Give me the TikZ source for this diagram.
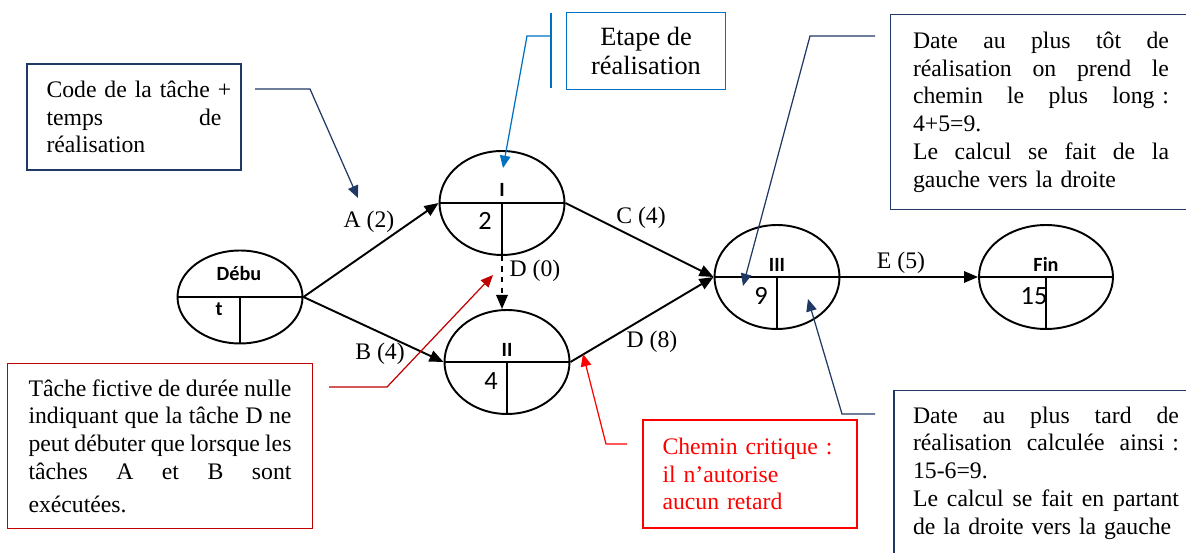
\documentclass[tikz,border=0pt]{standalone}
\usepackage{fontspec}
\setmainfont{Liberation Serif}
\newfontfamily\carlito{Carlito}
\usetikzlibrary{shapes.geometric,arrows.meta,positioning}
\definecolor{navyline}{HTML}{203864}
\definecolor{stepblue}{HTML}{0070C0}
\definecolor{darkred}{HTML}{C00000}
\definecolor{critred}{HTML}{FF0000}

\begin{document}
\begin{tikzpicture}[x=0.02cm, y=-0.02cm,
    evt/.style={draw, ellipse, line width=1.1pt, minimum width=2.5cm, minimum height=2.08cm, inner sep=0pt},
    evtname/.style={anchor=base, font=\carlito\fontsize{11.5}{13}\selectfont\bfseries},
    evtdate/.style={anchor=base, font=\carlito\fontsize{15}{18}\selectfont},
    split/.style={line width=1.1pt},
    task/.style={-{Triangle[length=8pt,width=6.5pt]}, line width=1.1pt},
    tasklbl/.style={font=\fontsize{13.5}{15.8}\selectfont},
    note/.style={draw, line width=0.9pt, inner sep=0pt, font=\fontsize{13.5}{15.8}\selectfont},
    pointer/.style={-{Triangle[length=7pt,width=6pt]}, line width=0.7pt}
]
\useasboundingbox (0,0) rectangle (1186,553);

% --- events ---
\node[evt, minimum height=1.86cm] (deb) at (240,297) {};
\node[evt] (n1) at (502,203) {};
\node[evt] (n2) at (507,362) {};
\node[evt] (n3) at (777,277) {};
\node[evt, minimum width=2.68cm] (fin) at (1046,277) {};

% --- event cells ---
\draw[split] (deb.west) -- (deb.east);
\draw[split] (deb.center) -- (deb.south);
\draw[split] (n1.west) -- (n1.east);
\draw[split] (n1.center) -- (n1.south);
\draw[split] (n2.west) -- (n2.east);
\draw[split] (n2.center) -- (n2.south);
\draw[split] (n3.west) -- (n3.east);
\draw[split] (n3.center) -- (n3.south);
\draw[split] (fin.west) -- (fin.east);
\draw[split] (fin.center) -- (fin.south);

% --- event names and dates ---
\node[evtname] (debname) at (239,281) {Débu};
\node[evtname] (debname2) at (219,316) {t};
\node[evtname] (n1name) at (502,197) {I};
\node[evtdate] (n1date) at (485,230) {2};
\node[evtname] (n2name) at (507,357) {II};
\node[evtdate] (n2date) at (491,390) {4};
\node[evtname] (n3name) at (777,272) {III};
\node[evtdate] (n3date) at (761,305) {9};
\node[evtname] (finname) at (1046,272) {Fin};
\node[evtdate] (findate) at (1034,305) {15};

% --- tasks ---
\draw[task] (deb.east) -- (n1.west);
\draw[task] (deb.east) -- (n2.west);
\draw[task] (n1.east) -- (n3.west);
\draw[task] (n2.east) -- (n3.west);
\draw[task, dashed] (n1.south) -- (n1.south |- n2.north);
\draw[task] (n3.east) -- (fin.west);

\node[tasklbl] (lblA) at (369,222) {A (2)};
\node[tasklbl] (lblB) at (380,354) {B (4)};
\node[tasklbl] (lblC) at (641,218) {C (4)};
\node[tasklbl] (lblD0) at (535,271) {D (0)};
\node[tasklbl] (lblD8) at (652,342) {D (8)};
\node[tasklbl] (lblE) at (901,263) {E (5)};

% --- notes ---
\node[note, draw=navyline, minimum width=4.28cm, minimum height=2.12cm, text width=3.5cm, align=left] (codebox) at (134,117)
  {\mbox{Code de la tâche +}\\ temps\hfill de\\ réalisation};
\node[note, draw=stepblue, minimum width=3.18cm, minimum height=1.54cm, align=center,
      font=\fontsize{15}{16.5}\selectfont] (stepbox) at (646,51)
  {Etape de\\ réalisation};
\node[note, draw=navyline, minimum width=6.02cm, minimum height=3.9cm, text width=5.12cm, align=left] (earlybox) at (1041,112)
  {Date\hfill au\hfill plus\hfill tôt\hfill de\\
   réalisation\hfill on\hfill prend\hfill le\\
   chemin\hfill le\hfill plus\hfill long~:\\
   4+5=9.\\
   Le\hfill calcul\hfill se\hfill fait\hfill de\hfill la\\
   gauche vers la droite};
\node[note, draw=navyline, minimum width=6.08cm, minimum height=3.3cm, text width=5.32cm, align=left] (latebox) at (1046,473)
  {Date\hfill au\hfill plus\hfill tard\hfill de\\
   réalisation\hfill calculée\hfill ainsi~:\\
   15-6=9.\\
   Le\hfill calcul\hfill se\hfill fait\hfill en\hfill partant\\
   de la droite vers la gauche};
\node[note, draw=darkred, minimum width=6.1cm, minimum height=3.3cm, text width=5.26cm, align=left] (fictbox) at (160,446)
  {Tâche\hfill fictive\hfill de\hfill durée\hfill nulle\\
   indiquant\hfill que\hfill la\hfill tâche\hfill D\hfill ne\\
   peut\hfill débuter\hfill que\hfill lorsque\hfill les\\
   tâches\hfill A\hfill et\hfill B\hfill sont\\[3pt]
   exécutées.};
\node[note, draw=critred, text=critred, minimum width=4.28cm, minimum height=2.16cm, text width=3.5cm, align=left] (critbox) at (750,474)
  {Chemin critique :\\ il n’autorise\\ aucun retard};

% --- pointers ---
\coordinate (codeA) at (255,89);
\coordinate (codeB) at (310,89);
\coordinate (codeT) at (358,198);
\draw[pointer, navyline] (codeA) -- (codeB) -- (codeT);

\coordinate (stepbarA) at (551,13);
\coordinate (stepbarB) at (551,88);
\draw[stepblue, line width=0.8pt] (stepbarA) -- (stepbarB);
\coordinate (stepA) at (551,36);
\coordinate (stepB) at (527,36);
\coordinate (stepT) at (503,168);
\draw[pointer, stepblue] (stepA) -- (stepB) -- (stepT);

\coordinate (earlyA) at (875,36);
\coordinate (earlyB) at (810,36);
\coordinate (earlyT) at (743,286);
\draw[pointer, navyline] (earlyA) -- (earlyB) -- (earlyT);

\coordinate (lateA) at (875,414);
\coordinate (lateB) at (842,414);
\coordinate (lateT) at (808,299);
\draw[pointer, navyline] (lateA) -- (lateB) -- (lateT);

\coordinate (fictA) at (329,387);
\coordinate (fictB) at (387,387);
\coordinate (fictT) at (493,275);
\draw[pointer, darkred] (fictA) -- (fictB) -- (fictT);

\coordinate (critA) at (627,444);
\coordinate (critB) at (606,444);
\coordinate (critT) at (583,354);
\draw[pointer, critred] (critA) -- (critB) -- (critT);

\end{tikzpicture}
\end{document}
